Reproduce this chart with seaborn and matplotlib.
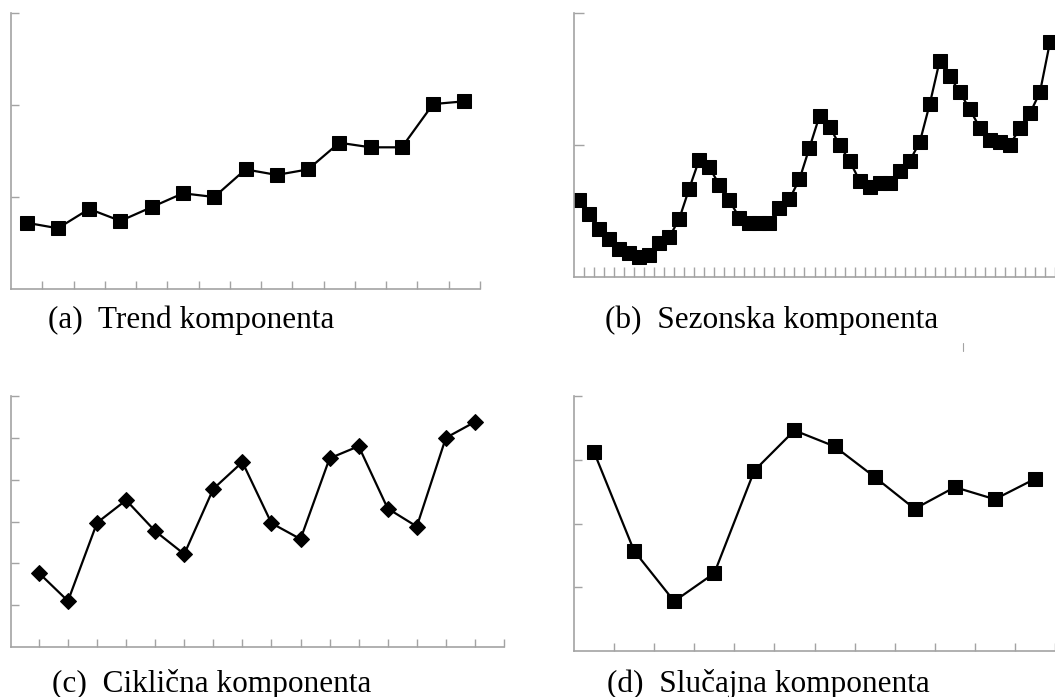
import numpy as np
import pandas as pd
import matplotlib
matplotlib.use('Agg')
import matplotlib.pyplot as plt
from matplotlib.lines import Line2D
import seaborn as sns

# vrijednosti procitane sa slike (proizvoljne jedinice)
trend_vals = [0.72, 0.66, 0.87, 0.74, 0.89, 1.04, 1.00, 1.30, 1.24, 1.30,
              1.59, 1.54, 1.54, 2.01, 2.04]
seasonal_vals = [0.58, 0.48, 0.36, 0.29, 0.21, 0.18, 0.15, 0.17, 0.26, 0.30, 0.44, 0.67,
                 0.89, 0.83, 0.70, 0.58, 0.45, 0.41, 0.41, 0.41, 0.52, 0.59, 0.74, 0.98,
                 1.22, 1.14, 1.00, 0.88, 0.73, 0.68, 0.71, 0.71, 0.80, 0.88, 1.02, 1.31,
                 1.64, 1.52, 1.40, 1.27, 1.13, 1.04, 1.02, 1.00, 1.13, 1.24, 1.40, 1.78]
cyclic_vals = [1.77, 1.10, 2.97, 3.51, 2.77, 2.22, 3.78, 4.42, 2.96, 2.58,
               4.51, 4.80, 3.31, 2.88, 5.00, 5.38]
random_vals = [3.12, 1.57, 0.78, 1.22, 2.83, 3.46, 3.21, 2.73, 2.23, 2.57, 2.38, 2.70]
captions = ['(a)  Trend komponenta', '(b)  Sezonska komponenta',
            '(c)  Ciklična komponenta', '(d)  Slučajna komponenta']

sns.set_style('white')
plt.rcParams['font.family'] = ['Liberation Serif', 'DejaVu Serif']

AXIS_GREY = '#a3a3a3'
W, H = 1055, 697


def px_axes(fig, left, top, right, bottom):
    # pozicija osi zadana u pikselima slike
    return fig.add_axes([left / W, 1 - bottom / H, (right - left) / W, (bottom - top) / H])


def style_axis(ax, xlim, ylim, xticks, yticks, tick_len=6):
    ax.set_xlim(*xlim)
    ax.set_ylim(*ylim)
    ax.set_xticks(xticks)
    ax.set_yticks(yticks)
    ax.set_xticklabels([])
    ax.set_yticklabels([])
    ax.set_xlabel('')
    ax.set_ylabel('')
    for s in ['top', 'right']:
        ax.spines[s].set_visible(False)
    for s in ['left', 'bottom']:
        ax.spines[s].set_color(AXIS_GREY)
        ax.spines[s].set_linewidth(1.2)
    ax.tick_params(direction='in', length=tick_len, width=1, color=AXIS_GREY,
                   bottom=True, left=True)


def draw_series(ax, x, y, marker, msize):
    df = pd.DataFrame({'x': x, 'y': y})
    sns.lineplot(data=df, x='x', y='y', ax=ax, color='black', linewidth=1.6,
                 marker=marker, markersize=msize, markeredgecolor='black',
                 markerfacecolor='black', legend=False)


fig = plt.figure(figsize=(W / 100, H / 100), dpi=100)

# (a) trend
ax_a = px_axes(fig, 11, 13, 480, 289)
n = len(trend_vals)
draw_series(ax_a, np.arange(n), trend_vals, 's', 10.5)
style_axis(ax_a, (-0.5, n - 0.5), (0, 3), np.arange(n) + 0.5, [1, 2, 3])

# (b) sezonska
ax_b = px_axes(fig, 574, 13, 1055, 277)
n = len(seasonal_vals)
draw_series(ax_b, np.arange(n), seasonal_vals, 's', 10)
style_axis(ax_b, (-0.5, n - 0.5), (0, 2), np.arange(n) + 0.5, [1, 2], tick_len=7)

# (c) ciklicna
ax_c = px_axes(fig, 11, 396, 504, 647)
n = len(cyclic_vals)
draw_series(ax_c, np.arange(1, n + 1), cyclic_vals, 'D', 8.5)
style_axis(ax_c, (0.04, n + 0.92), (0, 6), np.arange(1, n + 2), [1, 2, 3, 4, 5, 6])

# (d) slucajna
ax_d = px_axes(fig, 574, 396, 1055, 651)
n = len(random_vals)
draw_series(ax_d, np.arange(n), random_vals, 's', 10)
style_axis(ax_d, (-0.5, n - 0.5), (0, 4), np.arange(n) + 0.5, [1, 2, 3, 4])

# natpisi ispod grafova
caption_pos = [(48, 328), (605, 328), (52, 692), (607, 692)]
for text, (cx, cy) in zip(captions, caption_pos):
    fig.text(cx / W, 1 - cy / H, text, fontsize=22.5, color='black',
             ha='left', va='baseline')

# sitna crtica ispod natpisa (b)
fig.add_artist(Line2D([963 / W, 963 / W], [1 - 343 / H, 1 - 351 / H],
                      color=AXIS_GREY, linewidth=0.8))

fig.savefig('out.png', dpi=100)
